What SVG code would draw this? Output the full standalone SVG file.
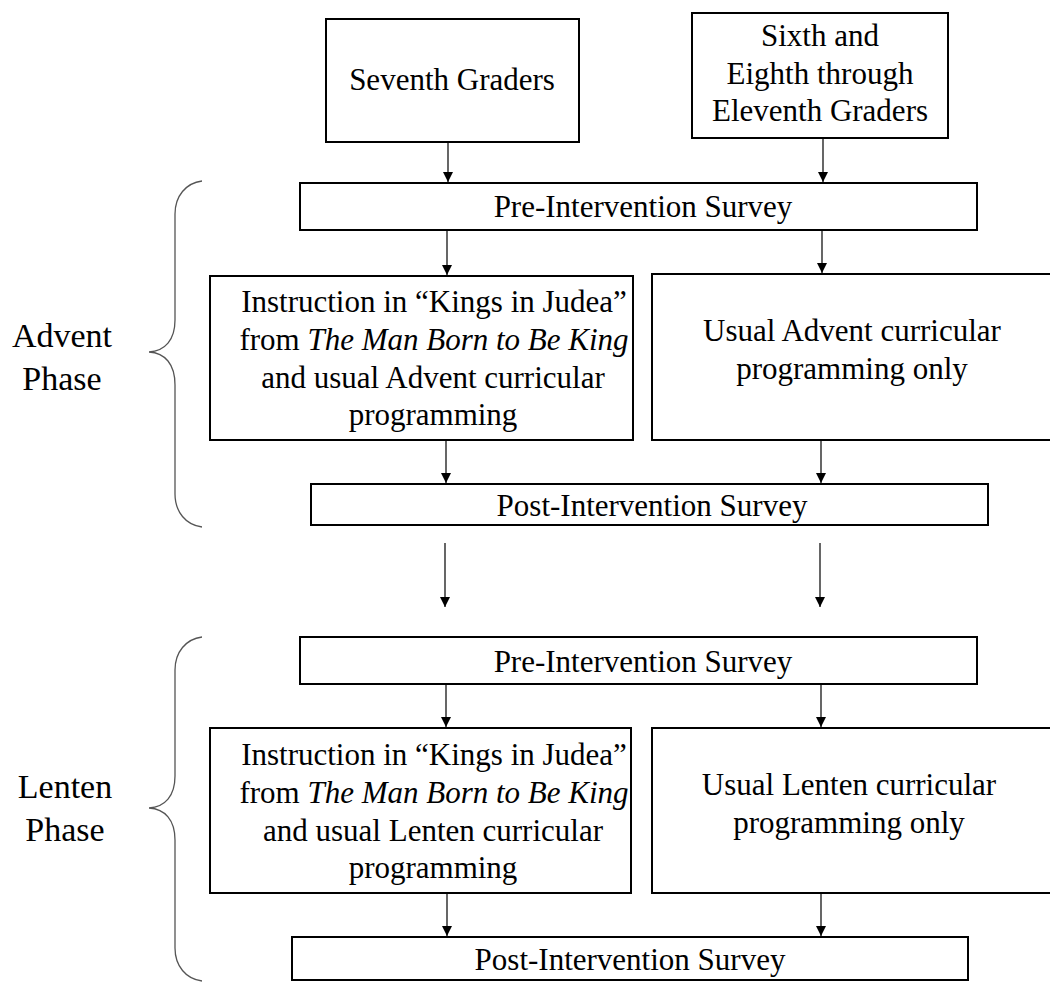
<svg xmlns="http://www.w3.org/2000/svg" width="1050" height="982" viewBox="0 0 1050 982">
<defs>
<style>
.box{fill:#fff;stroke:#000;stroke-width:2}
.t{font-family:"Liberation Serif","Times New Roman",serif;font-size:31px;fill:#000;text-anchor:middle}
.ph{font-family:"Liberation Serif","Times New Roman",serif;font-size:34px;fill:#000;text-anchor:middle}
.c{stroke:#000;stroke-width:1.2;fill:none}
.br{stroke:#555;stroke-width:1.3;fill:none}
</style>
<marker id="ah" viewBox="0 0 10 10" refX="10" refY="5" markerWidth="10" markerHeight="10" markerUnits="userSpaceOnUse" orient="auto">
<path d="M0,0 L10,5 L0,10 z" fill="#000"/>
</marker>
</defs>
<rect width="1050" height="982" fill="#fff"/>

<g id="connectors">
<line class="c" x1="448" y1="142" x2="448" y2="182" marker-end="url(#ah)"/>
<line class="c" x1="823" y1="138" x2="823" y2="182" marker-end="url(#ah)"/>
<line class="c" x1="447" y1="230" x2="447" y2="275" marker-end="url(#ah)"/>
<line class="c" x1="822" y1="230" x2="822" y2="273" marker-end="url(#ah)"/>
<line class="c" x1="446" y1="440" x2="446" y2="483" marker-end="url(#ah)"/>
<line class="c" x1="821" y1="440" x2="821" y2="483" marker-end="url(#ah)"/>
<line class="c" x1="445" y1="543" x2="445" y2="607" marker-end="url(#ah)"/>
<line class="c" x1="820" y1="543" x2="820" y2="607" marker-end="url(#ah)"/>
<line class="c" x1="446" y1="684" x2="446" y2="727" marker-end="url(#ah)"/>
<line class="c" x1="821" y1="684" x2="821" y2="727" marker-end="url(#ah)"/>
<line class="c" x1="447" y1="893" x2="447" y2="936" marker-end="url(#ah)"/>
<line class="c" x1="821" y1="893" x2="821" y2="936" marker-end="url(#ah)"/>
</g>

<g id="advent-brace">
<path class="br" d="M202,181 C186,183 175,196 175,214 L175,320 C175,340 165,351 149,352 C165,353 175,364 175,385 L175,494 C175,512 186,525 202,527"/>
<text class="ph" x="62" y="347">Advent</text>
<text class="ph" x="62" y="390">Phase</text>
</g>
<g id="lenten-brace">
<path class="br" d="M202,637 C186,639 175,652 175,670 L175,776 C175,796 165,807 149,808 C165,809 175,820 175,840 L175,948 C175,966 186,979 202,981"/>
<text class="ph" x="65" y="798">Lenten</text>
<text class="ph" x="65" y="841">Phase</text>
</g>

<g id="seventh">
<rect class="box" x="326" y="19" width="253" height="123"/>
<text class="t" x="452" y="90">Seventh Graders</text>
</g>
<g id="sixth">
<rect class="box" x="692" y="13" width="256" height="125"/>
<text class="t" x="820" y="46">Sixth and</text>
<text class="t" x="820" y="84">Eighth through</text>
<text class="t" x="820" y="121">Eleventh Graders</text>
</g>

<g id="advent-pre">
<rect class="box" x="300" y="183" width="677" height="47"/>
<text class="t" x="643" y="217">Pre-Intervention Survey</text>
</g>
<g id="advent-instr">
<rect class="box" x="210" y="276" width="423" height="164"/>
<text class="t" x="434" y="312">Instruction in “Kings in Judea”</text>
<text class="t" x="434" y="350">from <tspan font-style="italic">The Man Born to Be King</tspan></text>
<text class="t" x="433" y="388">and usual Advent curricular</text>
<text class="t" x="433" y="425">programming</text>
</g>
<g id="advent-usual">
<rect class="box" x="652" y="274" width="420" height="166"/>
<text class="t" x="852" y="341">Usual Advent curricular</text>
<text class="t" x="852" y="379">programming only</text>
</g>
<g id="advent-post">
<rect class="box" x="311" y="484" width="677" height="41"/>
<text class="t" x="652" y="516">Post-Intervention Survey</text>
</g>

<g id="lenten-pre">
<rect class="box" x="300" y="637" width="677" height="47"/>
<text class="t" x="643" y="672">Pre-Intervention Survey</text>
</g>
<g id="lenten-instr">
<rect class="box" x="210" y="728" width="421" height="165"/>
<text class="t" x="434" y="765">Instruction in “Kings in Judea”</text>
<text class="t" x="434" y="803">from <tspan font-style="italic">The Man Born to Be King</tspan></text>
<text class="t" x="433" y="841">and usual Lenten curricular</text>
<text class="t" x="433" y="878">programming</text>
</g>
<g id="lenten-usual">
<rect class="box" x="652" y="728" width="420" height="165"/>
<text class="t" x="849" y="795">Usual Lenten curricular</text>
<text class="t" x="849" y="833">programming only</text>
</g>
<g id="lenten-post">
<rect class="box" x="292" y="937" width="676" height="43"/>
<text class="t" x="630" y="970">Post-Intervention Survey</text>
</g>
</svg>
